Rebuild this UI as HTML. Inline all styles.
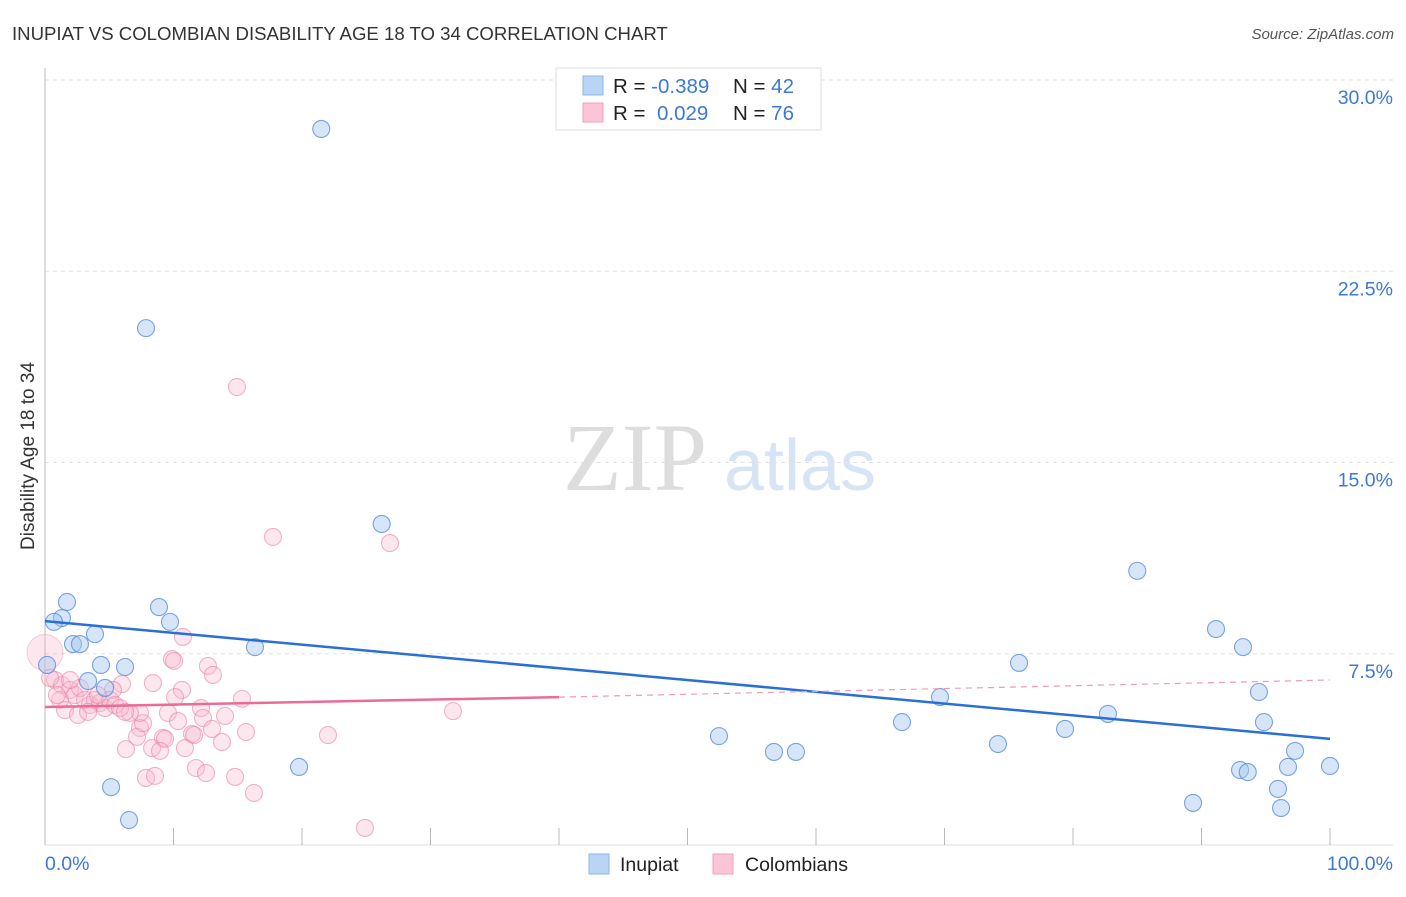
<!DOCTYPE html>
<html><head><meta charset="utf-8"><style>
body{margin:0;background:#fff;font-family:"Liberation Sans",sans-serif;}
</style></head><body>
<svg width="1406" height="892" xmlns="http://www.w3.org/2000/svg" font-family="Liberation Sans, sans-serif">
<text x="12" y="40" font-size="18.6" fill="#333">INUPIAT VS COLOMBIAN DISABILITY AGE 18 TO 34 CORRELATION CHART</text>
<text x="1394" y="39" font-size="15" fill="#555" text-anchor="end" font-style="italic">Source: ZipAtlas.com</text>
<text transform="translate(34,456) rotate(-90)" font-size="19" fill="#333" text-anchor="middle">Disability Age 18 to 34</text>
<g><text x="635" y="490" font-size="96" fill="#ddd" text-anchor="middle" font-family="Liberation Serif, serif">ZIP</text><text x="800" y="490" font-size="72" fill="#d6e4f5" text-anchor="middle">atlas</text></g>
<g id="grid"></g><g id="axes"></g><g id="pts"></g><g id="lines"></g>
<g>
<rect x="556" y="68" width="265" height="62" fill="#fff" stroke="#ddd"/>
<rect x="583" y="76" width="20" height="19" fill="#b9d4f5" stroke="#8fb6e8"/>
<rect x="583" y="103" width="20" height="19" fill="#fbc5d6" stroke="#f0a0bb"/>
<text x="613" y="93" font-size="20.5" fill="#222">R = <tspan fill="#3b78d8">-0.389</tspan><tspan x="733">N = </tspan><tspan fill="#3b78d8">42</tspan></text>
<text x="613" y="120" font-size="20.5" fill="#222">R = <tspan x="657" fill="#3b78d8">0.029</tspan><tspan x="733">N = </tspan><tspan fill="#3b78d8">76</tspan></text>
</g>
<g>
<rect x="589" y="854" width="20" height="20" fill="#b9d4f5" stroke="#8fb6e8"/>
<text x="620" y="871" font-size="19.5" fill="#222">Inupiat</text>
<rect x="713" y="854" width="20" height="20" fill="#fbc5d6" stroke="#f0a0bb"/>
<text x="745" y="871" font-size="19.5" fill="#222">Colombians</text>
</g>
</svg>
<script>
const yTicks=[7.5,15,22.5,30];
const yTickLabels=["7.5%","15.0%","22.5%","30.0%"];
const xTicks=[0,10,20,30,40,50,60,70,80,90,100];
const blueX=[21.5,7.86,26.2,85.0,1.71,1.32,0.70,8.87,9.73,3.89,2.18,2.72,16.34,91.13,93.23,75.8,4.36,6.23,0.16,3.35,4.67,69.65,94.47,82.72,66.69,79.38,94.86,52.45,56.73,58.44,19.77,74.16,97.28,96.73,100,93.0,93.6,95.95,89.34,96.19,5.14,6.54];
const blueY=[28.08,20.27,12.59,10.75,9.53,8.90,8.75,9.33,8.75,8.27,7.88,7.88,7.76,8.47,7.76,7.14,7.06,6.98,7.06,6.43,6.16,5.80,6.0,5.14,4.82,4.55,4.82,4.27,3.65,3.65,3.06,3.96,3.69,3.06,3.10,2.94,2.86,2.2,1.65,1.45,2.27,0.98];
const pinkX=[10.74,9.88,10.04,12.68,13.07,8.40,10.66,10.12,15.33,5.99,5.29,12.14,14.01,9.57,10.35,12.30,13.0,15.64,11.44,11.6,9.18,9.34,13.77,10.89,8.33,8.95,6.30,7.39,7.16,7.63,7.39,6.61,11.75,12.53,14.79,16.26,7.86,8.56,22.02,14.94,17.74,26.85,31.75,24.9,0.78,1.32,1.95,2.33,2.72,3.11,3.50,3.89,4.28,4.67,5.06,5.45,1.17,1.56,2.57,3.35,5.84,6.23,4.12,1.95,0.39,0.93];
const pinkY=[8.16,7.29,7.22,7.02,6.67,6.35,6.08,5.80,5.73,6.31,6.08,5.37,5.06,5.18,4.86,4.98,4.55,4.43,4.35,4.31,4.20,4.16,4.04,3.80,3.80,3.69,3.76,4.59,4.24,4.78,5.18,5.18,3.02,2.82,2.67,2.04,2.63,2.71,4.31,17.96,12.08,11.84,5.25,0.67,6.47,6.27,6.08,5.88,6.16,5.69,5.49,5.69,5.57,5.37,5.69,5.49,5.69,5.29,5.10,5.22,5.37,5.22,5.88,6.47,6.55,5.88];
const blueTrend=[[0,8.78],[100,4.16]];
const pinkTrend=[[0,5.41],[40,5.80],[100,6.47]];
const NS="http://www.w3.org/2000/svg";
const sx=v=>45+v*12.85, sy=v=>845-v*25.5;
function mk(tag,attrs,parent){const e=document.createElementNS(NS,tag);for(const k in attrs)e.setAttribute(k,attrs[k]);document.getElementById(parent).appendChild(e);return e;}
yTicks.forEach((t,i)=>{
 const l=mk('line',{x1:45,x2:1393,y1:sy(t),y2:sy(t),stroke:'#e2e2e2','stroke-dasharray':'4,4'},'grid');
 
 
 const tx=mk('text',{x:1393,y:sy(t)+24,'font-size':19.5,fill:'#3b78d8','text-anchor':'end'},'grid');
 tx.textContent=yTickLabels[i];
 
 
});
const ax=mk('line',{x1:45,x2:45,y1:68,y2:845,stroke:'#bbb'},'axes');


const bx=mk('line',{x1:45,x2:1393,y1:845,y2:845,stroke:'#ddd'},'axes');


xTicks.forEach(t=>{
 const l=mk('line',{x1:sx(t),x2:sx(t),y1:828,y2:845,stroke:'#bbb'},'axes');
 
 
});
[[0,"0.0%","start",45],[100,"100.0%","end",1393]].forEach(d=>{
 const tx=mk('text',{x:d[3],y:870,'font-size':19.5,fill:'#3b78d8','text-anchor':d[2]},'axes');
 tx.textContent=d[1];
 
 
});
const big=mk('circle',{cx:sx(0),cy:sy(7.55),r:18,fill:'rgba(248,175,200,0.3)',stroke:'rgba(235,140,170,0.4)'},'pts');


pinkX.forEach((x,i)=>{
 const c=mk('circle',{cx:sx(x),cy:sy(pinkY[i]),r:8.5,fill:'rgba(250,185,205,0.35)',stroke:'rgba(235,130,165,0.6)','stroke-width':1.1},'pts');
 
 
});
blueX.forEach((x,i)=>{
 const c=mk('circle',{cx:sx(x),cy:sy(blueY[i]),r:8.5,fill:'rgba(165,200,240,0.45)',stroke:'rgba(80,135,215,0.75)','stroke-width':1.1},'pts');
 
 
});
const bl=mk('line',{x1:sx(blueTrend[0][0]),y1:sy(blueTrend[0][1]),x2:sx(blueTrend[1][0]),y2:sy(blueTrend[1][1]),stroke:'#2a6fd6','stroke-width':2.5},'lines');


const pl=mk('line',{x1:sx(pinkTrend[0][0]),y1:sy(pinkTrend[0][1]),x2:sx(pinkTrend[1][0]),y2:sy(pinkTrend[1][1]),stroke:'#ec6a98','stroke-width':2.5},'lines');


const pd=mk('line',{x1:sx(pinkTrend[1][0]),y1:sy(pinkTrend[1][1]),x2:sx(pinkTrend[2][0]),y2:sy(pinkTrend[2][1]),stroke:'#f09ab8','stroke-width':1.2,'stroke-dasharray':'6,5'},'lines');


</script>
</body></html>
